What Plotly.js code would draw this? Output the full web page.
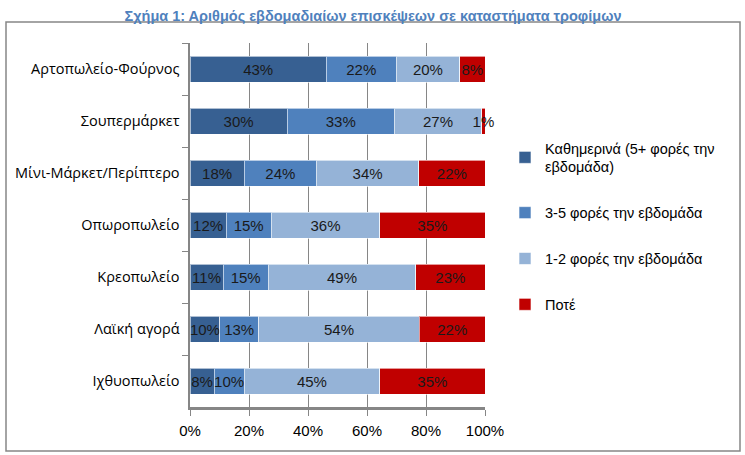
<!DOCTYPE html>
<html>
<head>
<meta charset="utf-8">
<script src="https://cdn.plot.ly/plotly-3.0.1.min.js"></script>
<style>
html,body{margin:0;padding:0;background:#fff;}
#chart{width:745px;height:455px;}
</style>
</head>
<body>
<div id="chart"></div>
<script>
var categories = ["Αρτοπωλείο-Φούρνος","Σουπερμάρκετ","Μίνι-Μάρκετ/Περίπτερο","Οπωροπωλείο","Κρεοπωλείο","Λαϊκή αγορά","Ιχθυοπωλείο"];
var seriesNames = ["Καθημερινά (5+ φορές την<br>εβδομάδα)","3-5 φορές την εβδομάδα","1-2 φορές την εβδομάδα","Ποτέ"];
var daily = [43,30,18,12,11,10,8];
var threeToFive = [22,33,24,15,15,13,10];
var oneToTwo = [20,27,34,36,49,54,45];
var never = [8,1,22,35,23,22,35];
var xTicks = [0,20,40,60,80,100];
var xTickLabels = ["0%","20%","40%","60%","80%","100%"];

var colors = ["#376092","#4F81BD","#95B3D7","#C00000"];
var series = [daily, threeToFive, oneToTwo, never];

var traces = series.map(function(vals, i){
  return {
    type: 'bar',
    orientation: 'h',
    name: seriesNames[i],
    legendgroup: 'g'+i,
    x: vals,
    y: categories,
    text: vals.map(function(v){return v+'%';}),
    textposition: 'inside',
    insidetextanchor: 'middle',
    textangle: 0,
    cliponaxis: false,
    textfont: {family: 'Liberation Sans, Arial, sans-serif', size: 15, color: '#1a1a1a'},
    marker: {color: colors[i], line: {color: 'rgba(255,255,255,0.6)', width: 1}},
    hoverinfo: 'none'
  };
});

var L = 190, R = 485, T = 43, B = 407, W = 745, H = 455;
var pw = R - L, ph = B - T;
function px2x(p){ return (p - L)/pw; }
function py2y(p){ return (B - p)/ph; }

var layout = {
  width: W, height: H,
  margin: {l: L, r: W - R, t: T, b: H - B, pad: 0},
  paper_bgcolor: '#ffffff',
  plot_bgcolor: '#ffffff',
  barmode: 'stack',
  barnorm: 'percent',
  bargap: 0.5,
  showlegend: true,
  uniformtext: {minsize: 15, mode: 'show'},
  title: {
    text: 'Σχήμα 1: Αριθμός εβδομαδιαίων επισκέψεων σε καταστήματα τροφίμων',
    font: {family: 'Liberation Sans, Arial, sans-serif', size: 14.5, color: '#4F81BD', weight: 'bold'},
    x: 373/W, xanchor: 'center', xref: 'container',
    y: 1 - 16/H, yanchor: 'middle', yref: 'container'
  },
  xaxis: {
    range: [0, 100.0001],
    tickmode: 'array',
    tickvals: xTicks,
    ticktext: xTickLabels,
    showgrid: true,
    gridcolor: '#868686',
    gridwidth: 1,
    zeroline: false,
    showline: true,
    linecolor: '#868686',
    linewidth: 2.5,
    ticks: 'outside',
    ticklen: 6,
    tickcolor: '#868686',
    ticklabelstandoff: 2,
    tickfont: {family: 'Liberation Sans, Arial, sans-serif', size: 15, color: '#000'},
    fixedrange: true
  },
  yaxis: {
    type: 'category',
    categoryorder: 'array',
    categoryarray: categories,
    autorange: 'reversed',
    showline: true,
    linecolor: '#868686',
    linewidth: 2.5,
    ticks: 'outside',
    tickson: 'boundaries',
    ticklen: 6,
    tickcolor: '#868686',
    showgrid: false,
    ticklabelstandoff: 5,
    tickfont: {family: 'Open Sans, Noto Sans, sans-serif', size: 14.5, color: '#000'},
    fixedrange: true
  },
  legend: {
    x: px2x(505), xanchor: 'left',
    y: py2y(132), yanchor: 'top',
    traceorder: 'grouped',
    tracegroupgap: 24,
    font: {family: 'Liberation Sans, Arial, sans-serif', size: 14.5, color: '#000'},
    bgcolor: 'rgba(0,0,0,0)',
    itemwidth: 30
  },
  shapes: [{
    type: 'rect', xref: 'paper', yref: 'paper',
    x0: px2x(6), x1: px2x(740), y0: py2y(451), y1: py2y(22),
    line: {color: '#868686', width: 1.5}, fillcolor: 'rgba(0,0,0,0)', layer: 'below'
  }]
};

Plotly.newPlot('chart', traces, layout, {displayModeBar: false, staticPlot: true});
</script>
</body>
</html>
